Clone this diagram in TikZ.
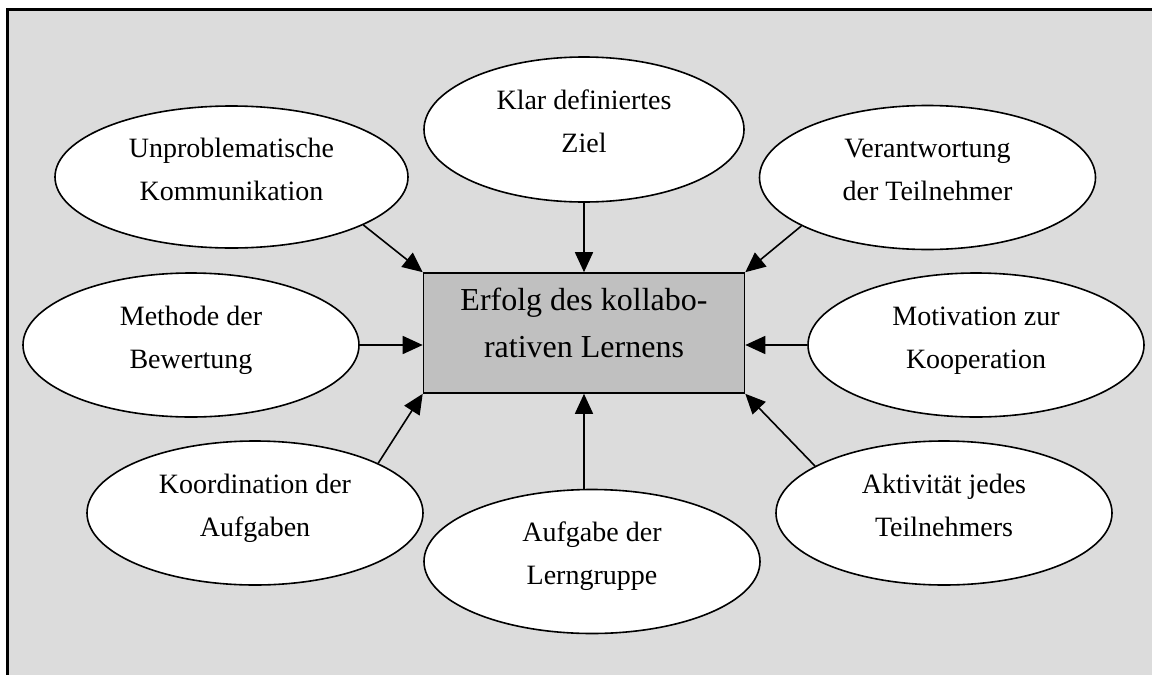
\documentclass[tikz,border=0pt]{standalone}
\usepackage{fontspec}
\setmainfont{Liberation Serif}
\usetikzlibrary{arrows.meta,shapes.geometric}
\definecolor{bggray}{RGB}{220,220,220}
\definecolor{boxgray}{RGB}{192,192,192}
\begin{document}
\begin{tikzpicture}[x=1pt,y=-1pt]
        \tikzset{
            faknode/.style={ellipse,draw=black,fill=white,line width=1.6pt,inner sep=0pt,minimum width=336pt,minimum height=144pt,align=center,font=\fontsize{28}{43}\selectfont,text height=56pt,text depth=10pt},
            mainnode/.style={rectangle,draw=black,fill=boxgray,line width=1.6pt,inner sep=0pt,minimum width=321pt,minimum height=120pt,align=center,font=\fontsize{32}{46.7}\selectfont,text height=58pt,text depth=10pt},
            pfeil/.style={-{Triangle[length=20pt,width=18pt]},line width=1.6pt},
        }
        \useasboundingbox (0,0) rectangle (1152,675);
        \draw[fill=bggray,line width=2.5pt] (7.5,9.5) rectangle (1180,700);

        \node[mainnode] (haupt) at(584,333) {Erfolg des kollabo-\\rativen Lernens};
        \node[faknode,minimum width=353pt,minimum height=142pt] (unpro) at(231.5,177) {Unproblematische\\Kommunikation};
        \node[faknode,minimum width=320pt,minimum height=145pt] (klar) at(584,129.5) {Klar definiertes\\Ziel};
        \node[faknode] (verant) at(927.5,177.5) {Verantwortung\\der Teilnehmer};
        \node[faknode] (meth) at(191,345) {Methode der\\Bewertung};
        \node[faknode] (mot) at(976,345) {Motivation zur\\Kooperation};
        \node[faknode] (koord) at(255,513) {Koordination der\\Aufgaben};
        \node[faknode] (aufg) at(592,561.5) {Aufgabe der\\Lerngruppe};
        \node[faknode] (akt) at(944,513) {Aktivität jedes\\Teilnehmers};

        \draw[pfeil] (unpro.-20) -- (haupt.north west);
        \draw[pfeil] (klar) -- (klar |- haupt.north);
        \draw[pfeil] (verant.201) -- (haupt.north east);
        \draw[pfeil] (meth) -- (meth -| haupt.west);
        \draw[pfeil] (mot) -- (mot -| haupt.east);
        \draw[pfeil] (koord.22) -- (haupt.south west);
        \draw[pfeil] (haupt.south |- aufg.north) -- (haupt.south);
        \draw[pfeil] (akt.160) -- (haupt.south east);
    \end{tikzpicture}
\end{document}
